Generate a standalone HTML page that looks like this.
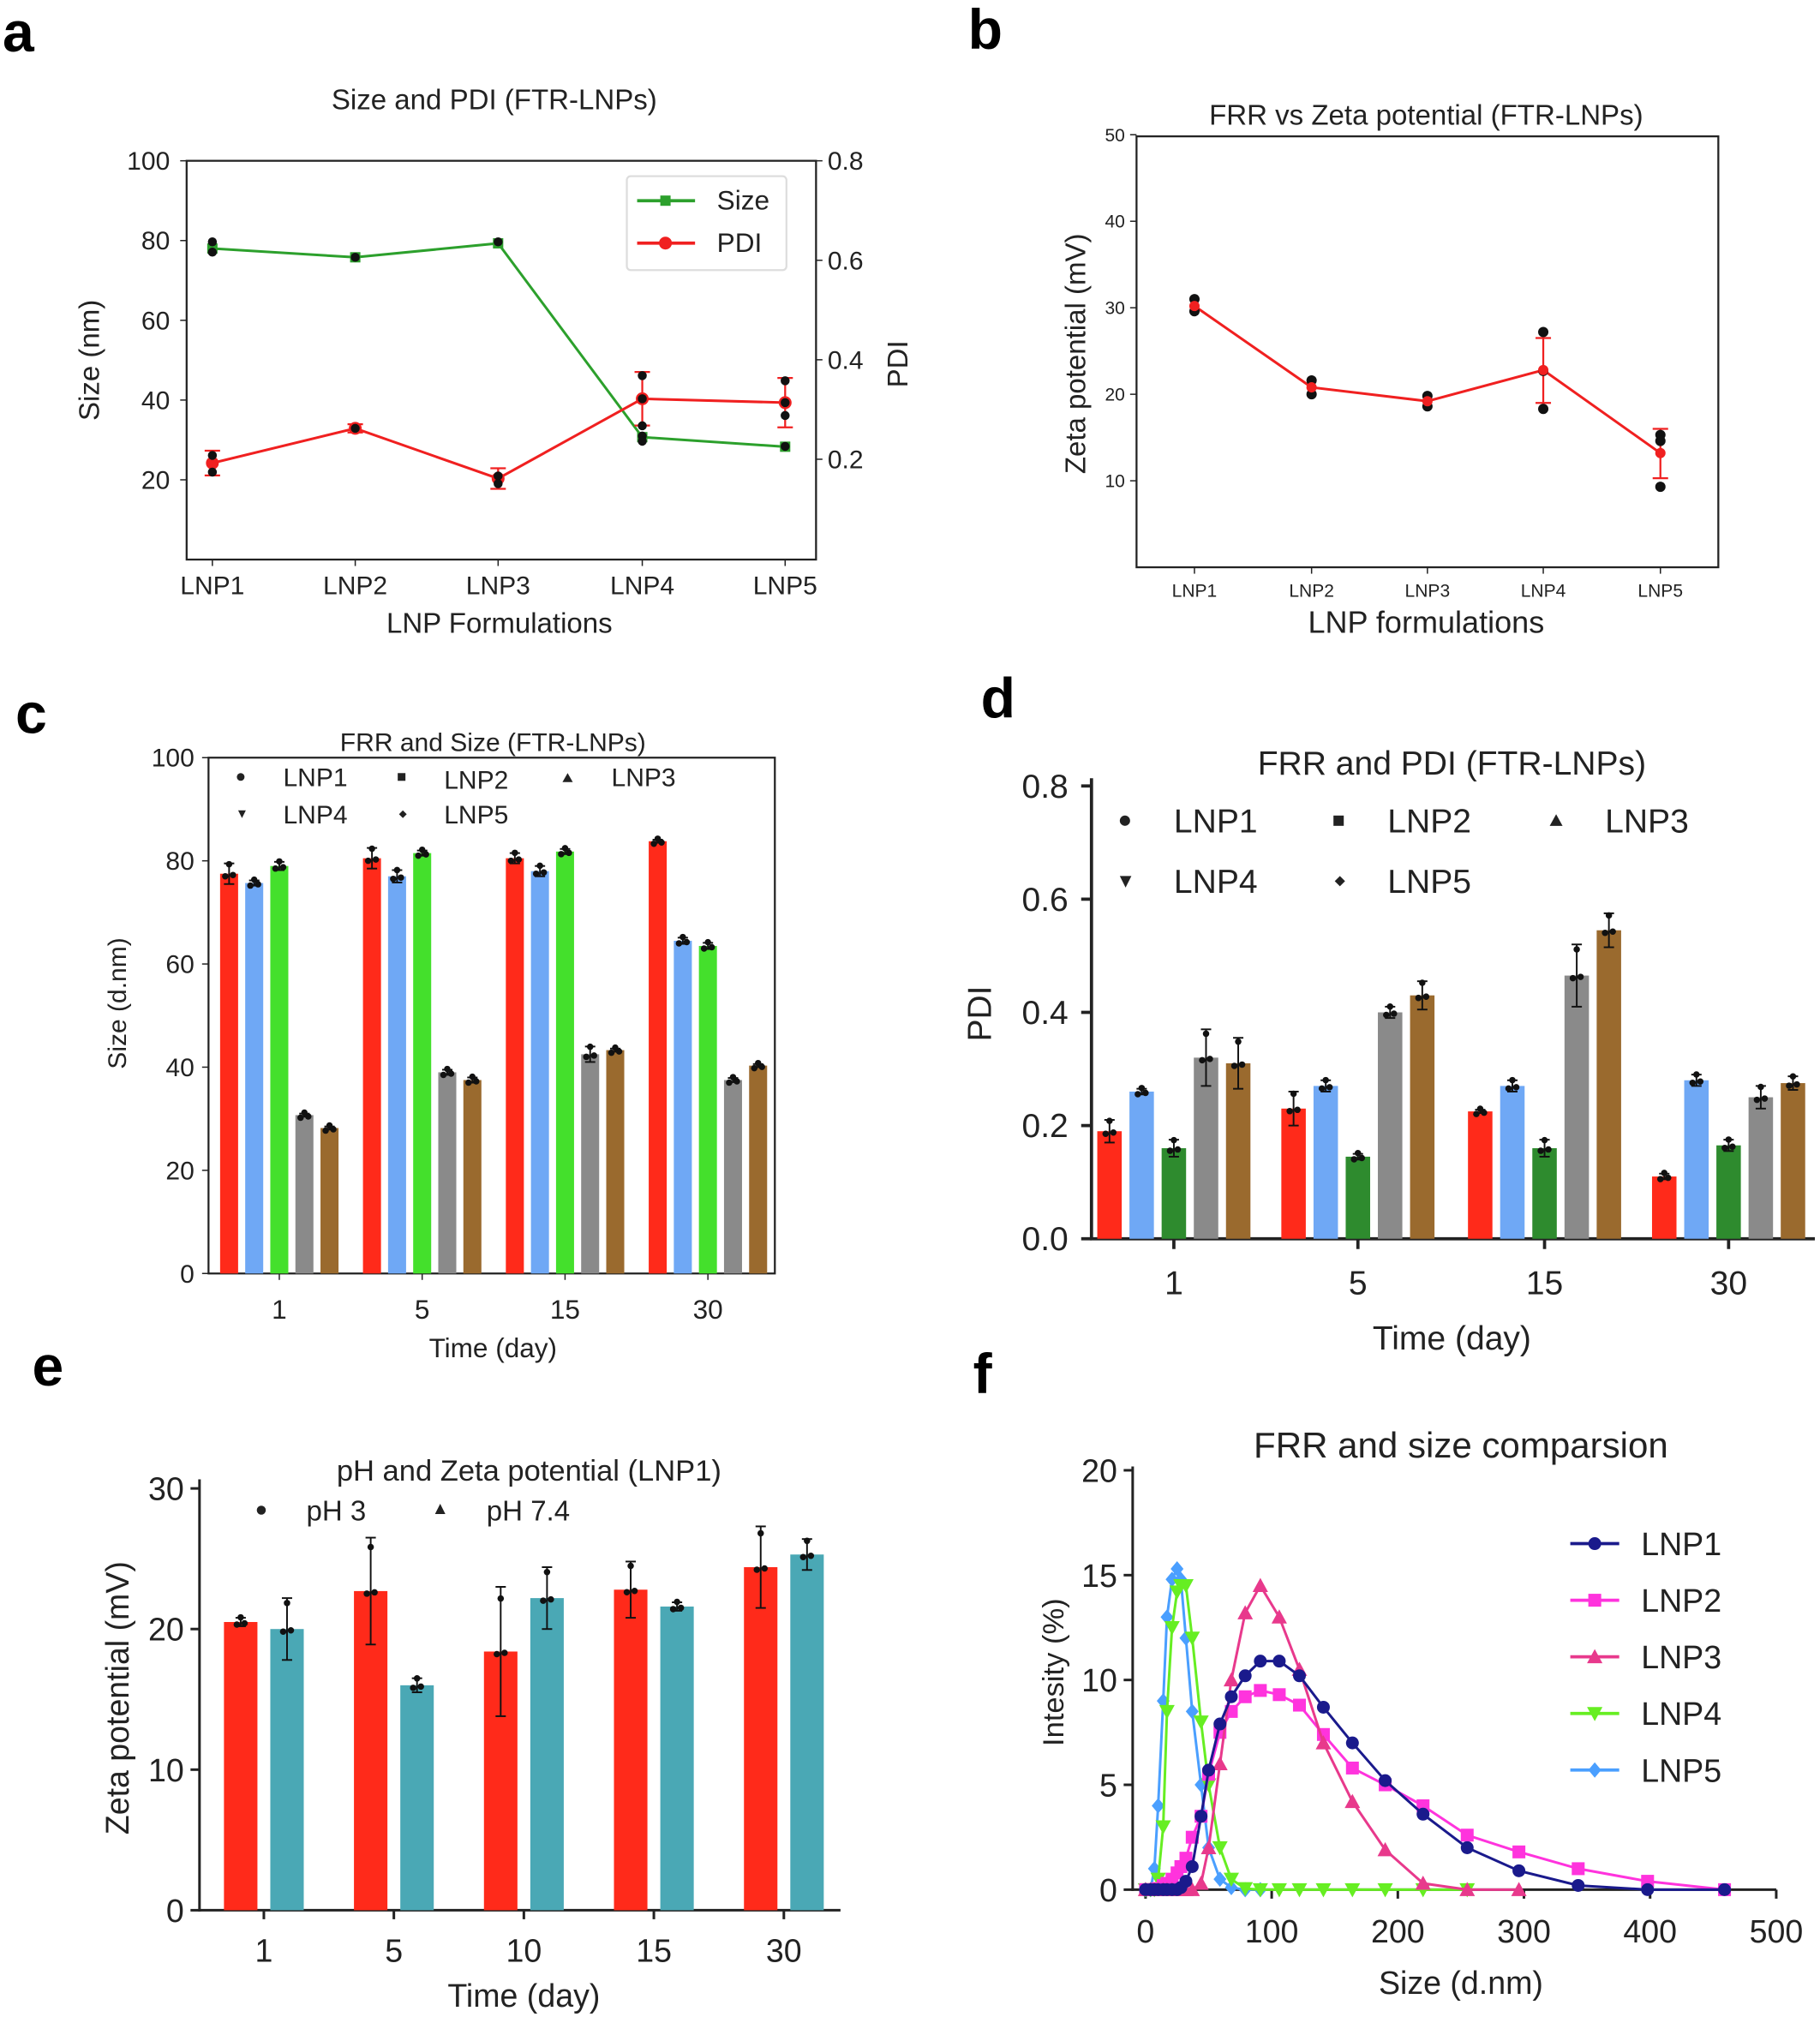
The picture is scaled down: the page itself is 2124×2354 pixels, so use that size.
<!DOCTYPE html>
<html><head><meta charset="utf-8"><style>
html,body{margin:0;padding:0;background:#fff;}
svg{display:block;font-family:"Liberation Sans",sans-serif;}
</style></head><body>
<svg id="s" xmlns="http://www.w3.org/2000/svg" width="2124" height="2354" viewBox="0 0 1414 1568" preserveAspectRatio="none">
<rect width="1414" height="1568" fill="#fff"/>
<g font-weight="bold" font-size="44">
<text x="2" y="40">a</text><text x="752" y="38">b</text>
<text x="12" y="570">c</text><text x="762" y="558">d</text>
<text x="25" y="1077">e</text><text x="756" y="1083">f</text>
</g>
<!-- Panel a -->
<g font-size="20" fill="#222">
<text x="384" y="85" text-anchor="middle" font-size="22">Size and PDI (FTR-LNPs)</text>
<rect x="145" y="125" width="489" height="310" fill="none" stroke="#222" stroke-width="1.5"/>
<text x="388" y="492" text-anchor="middle" font-size="22">LNP Formulations</text>
<text transform="translate(77,280) rotate(-90)" text-anchor="middle" font-size="22">Size (nm)</text>
<text transform="translate(705,283) rotate(-90)" text-anchor="middle" font-size="22">PDI</text>
</g>
<g id="pa"></g>
<!-- Panel b -->
<g font-size="14" fill="#222">
<text x="1108" y="97" text-anchor="middle" font-size="22">FRR vs Zeta potential (FTR-LNPs)</text>
<rect x="883" y="106" width="452" height="335" fill="none" stroke="#222" stroke-width="1.5"/>
<text x="1108" y="492" text-anchor="middle" font-size="24">LNP formulations</text>
<text transform="translate(843,275) rotate(-90)" text-anchor="middle" font-size="22">Zeta potential (mV)</text>
</g>
<g id="pb"></g>
<!-- Panel c -->
<g fill="#222">
<text x="383" y="584" text-anchor="middle" font-size="20">FRR and Size (FTR-LNPs)</text>
<rect x="162" y="589" width="440" height="401" fill="none" stroke="#222" stroke-width="1.5"/>
<text x="383" y="1055" text-anchor="middle" font-size="21">Time (day)</text>
<text transform="translate(98,780) rotate(-90)" text-anchor="middle" font-size="20">Size (d.nm)</text>
<g font-size="20"><circle cx="187" cy="604" r="3"/><text x="220" y="611">LNP1</text>
<rect x="309" y="601" width="6" height="6"/><text x="345" y="613">LNP2</text>
<path d="M441 601 L445 608 L437 608Z"/><text x="475" y="611">LNP3</text>
<path d="M185 630 L191 630 L188 636Z"/><text x="220" y="640">LNP4</text>
<path d="M313 630 L316 633 L313 636 L310 633Z"/><text x="345" y="640">LNP5</text></g>
</g>
<g id="pc"></g>
<!-- Panel d -->
<g fill="#222">
<text x="1128" y="602" text-anchor="middle" font-size="26">FRR and PDI (FTR-LNPs)</text>
<text x="1128" y="1049" text-anchor="middle" font-size="26">Time (day)</text>
<text transform="translate(770,788) rotate(-90)" text-anchor="middle" font-size="26">PDI</text>
<g font-size="26"><circle cx="874" cy="638" r="4"/><text x="912" y="647">LNP1</text>
<rect x="1036" y="634" width="8" height="8"/><text x="1078" y="647">LNP2</text>
<path d="M1209 633 L1214 642 L1204 642Z"/><text x="1247" y="647">LNP3</text>
<path d="M870 681 L879 681 L874.5 690Z"/><text x="912" y="694">LNP4</text>
<path d="M1041 681 L1045 685 L1041 689 L1037 685Z"/><text x="1078" y="694">LNP5</text></g>
</g>
<g id="pd"></g>
<!-- Panel e -->
<g fill="#222">
<text x="411" y="1151" text-anchor="middle" font-size="23">pH and Zeta potential  (LNP1)</text>
<text x="407" y="1560" text-anchor="middle" font-size="25">Time (day)</text>
<text transform="translate(100,1320) rotate(-90)" text-anchor="middle" font-size="25">Zeta potential (mV)</text>
<g font-size="22"><circle cx="203" cy="1174" r="3.5"/><text x="238" y="1182">pH 3</text>
<path d="M342 1169 L346 1177 L338 1177Z"/><text x="378" y="1182">pH 7.4</text></g>
</g>
<g id="pe"></g>
<!-- Panel f -->
<g fill="#222">
<text x="1135" y="1133" text-anchor="middle" font-size="28">FRR and size comparsion</text>
<text x="1135" y="1550" text-anchor="middle" font-size="25">Size (d.nm)</text>
<text transform="translate(826,1300) rotate(-90)" text-anchor="middle" font-size="23">Intesity (%)</text>
</g>
<g id="pf"></g>
</svg>
<script>
const NS="http://www.w3.org/2000/svg";
function el(p,t,a,txt){const e=document.createElementNS(NS,t);for(const k in a)e.setAttribute(k,a[k]);if(txt!==undefined)e.textContent=txt;document.getElementById(p).appendChild(e);return e;}
// Panel a
(function(){
 const xs=[165,276,387,499,610],names=["LNP1","LNP2","LNP3","LNP4","LNP5"];
 const ys=v=>435-3.1*v, yp=p=>125+(0.8-p)*386.7;
 [20,40,60,80,100].forEach(v=>{el("pa","line",{x1:140,x2:145,y1:ys(v),y2:ys(v),stroke:"#222"});el("pa","text",{x:132,y:ys(v)+7,"text-anchor":"end","font-size":20,fill:"#222"},v);});
 [0.2,0.4,0.6,0.8].forEach(v=>{el("pa","line",{x1:634,x2:639,y1:yp(v),y2:yp(v),stroke:"#222"});el("pa","text",{x:643,y:yp(v)+7,"font-size":20,fill:"#222"},v.toFixed(1));});
 xs.forEach((x,i)=>{el("pa","line",{x1:x,x2:x,y1:435,y2:440,stroke:"#222"});el("pa","text",{x:x,y:462,"text-anchor":"middle","font-size":20,fill:"#222"},names[i]);});
 const sz=[78,75.8,79.3,30.7,28.3],pdi=[360,333,372,310,313];
 el("pa","polyline",{points:xs.map((x,i)=>x+","+ys(sz[i])).join(" "),fill:"none",stroke:"#2ca02c","stroke-width":2});
 el("pa","polyline",{points:xs.map((x,i)=>x+","+pdi[i]).join(" "),fill:"none",stroke:"#f02020","stroke-width":2});
 const pe=[6,2,5,13,12];
 xs.forEach((x,i)=>{const y=ys(sz[i]);el("pa","line",{x1:x,x2:x,y1:y-3,y2:y+3,stroke:"#2ca02c","stroke-width":2});el("pa","rect",{x:x-4,y:y-4,width:8,height:8,fill:"#2ca02c"});
 const p=pdi[i];el("pa","line",{x1:x,x2:x,y1:p-pe[i]*1.6,y2:p+pe[i]*1.6,stroke:"#f02020","stroke-width":1.5});
 [-1,1].forEach(s=>el("pa","line",{x1:x-6,x2:x+6,y1:p+s*pe[i]*1.6,y2:p+s*pe[i]*1.6,stroke:"#f02020","stroke-width":1.5}));
 el("pa","circle",{cx:x,cy:p,r:5,fill:"#f02020"});});
 [[165,188],[165,196],[276,200],[387,188],[499,339],[499,343],[610,347],[165,354],[165,367],[276,333],[387,370],[387,376],[499,292],[499,310],[499,331],[610,296],[610,313],[610,323]].forEach(d=>el("pa","circle",{cx:d[0],cy:d[1],r:3.5,fill:"#111"}));
 el("pa","rect",{x:487,y:137,width:124,height:73,fill:"#fff",stroke:"#ddd","stroke-width":1.5,rx:3});
 el("pa","line",{x1:495,x2:540,y1:156,y2:156,stroke:"#2ca02c","stroke-width":2.5});el("pa","rect",{x:513,y:152,width:8,height:8,fill:"#2ca02c"});
 el("pa","line",{x1:495,x2:540,y1:189,y2:189,stroke:"#f02020","stroke-width":2.5});el("pa","circle",{cx:517,cy:189,r:5,fill:"#f02020"});
 el("pa","text",{x:557,y:163,"font-size":21,fill:"#222"},"Size");el("pa","text",{x:557,y:196,"font-size":21,fill:"#222"},"PDI");
})();
// Panel b
(function(){
 const xs=[928,1019,1109,1199,1290],y=v=>441-6.725*v;
 [10,20,30,40,50].forEach(v=>{el("pb","line",{x1:878,x2:883,y1:y(v),y2:y(v),stroke:"#222"});el("pb","text",{x:874,y:y(v)+5,"text-anchor":"end","font-size":14,fill:"#222"},v);});
 xs.forEach((x,i)=>{el("pb","line",{x1:x,x2:x,y1:441,y2:446,stroke:"#222"});el("pb","text",{x:x,y:464,"text-anchor":"middle","font-size":14,fill:"#222"},"LNP"+(i+1));});
 const v=[30.2,20.8,19.2,22.8,13.2];
 el("pb","polyline",{points:xs.map((x,i)=>x+","+y(v[i])).join(" "),fill:"none",stroke:"#f02020","stroke-width":2});
 [[1199,19,26.5],[1290,10.3,16]].forEach(e=>{el("pb","line",{x1:e[0],x2:e[0],y1:y(e[1]),y2:y(e[2]),stroke:"#f02020","stroke-width":1.5});[e[1],e[2]].forEach(q=>el("pb","line",{x1:e[0]-6,x2:e[0]+6,y1:y(q),y2:y(q),stroke:"#f02020","stroke-width":1.5}));});
 [[928,31],[928,29.6],[1019,21.6],[1019,20],[1109,19.8],[1109,18.6],[1199,27.2],[1199,22.7],[1199,18.3],[1290,15.3],[1290,14.6],[1290,9.3]].forEach(d=>el("pb","circle",{cx:d[0],cy:y(d[1]),r:4,fill:"#111"}));
 xs.forEach((x,i)=>el("pb","circle",{cx:x,cy:y(v[i]),r:4,fill:"#f02020"}));
})();
function bars(g,cen,offs,w,vals,cols,yf,errs){
 cen.forEach((c,gi)=>{offs.forEach((o,bi)=>{const v=vals[gi][bi],x=c+o,y=yf(v),b=yf(0);
  el(g,"rect",{x:x-w/2,y:y,width:w,height:b-y,fill:cols[bi]});
  const e=errs?errs[gi][bi]:0;
  if(e){el(g,"line",{x1:x,x2:x,y1:yf(v+e),y2:yf(v-e),stroke:"#111","stroke-width":1.3});[v+e,v-e].forEach(q=>el(g,"line",{x1:x-4,x2:x+4,y1:yf(q),y2:yf(q),stroke:"#111","stroke-width":1.3}));}
  el(g,"circle",{cx:x-3,cy:yf(v)+2,r:2.5,fill:"#111"});el(g,"circle",{cx:x+3,cy:yf(v)+1,r:2.5,fill:"#111"});el(g,"circle",{cx:x,cy:yf(v+e*0.8)-1,r:2.5,fill:"#111"});
 });});
}
// Panel c
(function(){
 const y=v=>990-4.01*v;
 [0,20,40,60,80,100].forEach(v=>{el("pc","line",{x1:157,x2:162,y1:y(v),y2:y(v),stroke:"#222"});el("pc","text",{x:151,y:y(v)+7,"text-anchor":"end","font-size":20,fill:"#222"},v);});
 const cen=[217,328,439,550];["1","5","15","30"].forEach((t,i)=>{el("pc","line",{x1:cen[i],x2:cen[i],y1:990,y2:995,stroke:"#222"});el("pc","text",{x:cen[i],y:1025,"text-anchor":"middle","font-size":21,fill:"#222"},t);});
 bars("pc",cen,[-39,-19.5,0,19.5,39],14,[[77.5,75.7,79,30.7,28.2],[80.5,77,81.5,39,37.5],[80.5,78,81.8,42.5,43.3],[83.8,64.5,63.5,37.5,40.3]],["#ff2a1a","#6fa8f5","#44e02c","#8a8a8a","#9a6a2e"],y,[[2,0.5,0.8,0.3,0.3],[2,1.2,0.5,0.5,0.5],[1,1,0.5,1.5,0.3],[0.3,0.6,0.6,0.4,0.3]]);
})();
// Panel d
(function(){
 const y=p=>963-440*p;
 el("pd","line",{x1:848,x2:848,y1:605,y2:964,stroke:"#222","stroke-width":2.5});el("pd","line",{x1:847,x2:1410,y1:963,y2:963,stroke:"#222","stroke-width":2.5});
 [0,0.2,0.4,0.6,0.8].forEach(v=>{el("pd","line",{x1:840,x2:848,y1:y(v),y2:y(v),stroke:"#222","stroke-width":2.5});el("pd","text",{x:830,y:y(v)+9,"text-anchor":"end","font-size":26,fill:"#222"},v.toFixed(1));});
 const cen=[912,1055,1200,1343];["1","5","15","30"].forEach((t,i)=>{el("pd","line",{x1:cen[i],x2:cen[i],y1:963,y2:971,stroke:"#222","stroke-width":2.5});el("pd","text",{x:cen[i],y:1006,"text-anchor":"middle","font-size":26,fill:"#222"},t);});
 bars("pd",cen,[-50,-25,0,25,50],19,[[.19,.26,.16,.32,.31],[.23,.27,.145,.40,.43],[.225,.27,.16,.465,.545],[.11,.28,.165,.25,.275]],["#ff2a1a","#6fa8f5","#2e8b2e","#8a8a8a","#9a6a2e"],y,[[.02,.005,.015,.05,.045],[.03,.01,.005,.01,.025],[.003,.01,.015,.055,.03],[.005,.01,.01,.02,.012]]);
})();
// Panel e
(function(){
 const y=v=>1485-10.93*v;
 el("pe","line",{x1:155,x2:155,y1:1150,y2:1486,stroke:"#222","stroke-width":2});el("pe","line",{x1:154,x2:653,y1:1485,y2:1485,stroke:"#222","stroke-width":2});
 [0,10,20,30].forEach(v=>{el("pe","line",{x1:148,x2:155,y1:y(v),y2:y(v),stroke:"#222","stroke-width":2});el("pe","text",{x:143,y:y(v)+9,"text-anchor":"end","font-size":25,fill:"#222"},v);});
 const cen=[205,306,407,508,609];["1","5","10","15","30"].forEach((t,i)=>{el("pe","line",{x1:cen[i],x2:cen[i],y1:1485,y2:1492,stroke:"#222","stroke-width":2});el("pe","text",{x:cen[i],y:1525,"text-anchor":"middle","font-size":25,fill:"#222"},t);});
 bars("pe",cen,[-18,18],26,[[20.5,20],[22.7,16],[18.4,22.2],[22.8,21.6],[24.4,25.3]],["#ff2a1a","#4aa8b5"],y,[[0.3,2.2],[3.8,0.5],[4.6,2.2],[2,0.3],[2.9,1.1]]);
})();
// Panel f
(function(){
 const X=v=>890+0.98*v,Y=v=>1469-16.3*v;
 el("pf","line",{x1:880,x2:880,y1:1140,y2:1470,stroke:"#222","stroke-width":2});el("pf","line",{x1:879,x2:1380,y1:1469,y2:1469,stroke:"#222","stroke-width":2});
 [0,5,10,15,20].forEach(v=>{el("pf","line",{x1:873,x2:880,y1:Y(v),y2:Y(v),stroke:"#222","stroke-width":2});el("pf","text",{x:868,y:Y(v)+9,"text-anchor":"end","font-size":25,fill:"#222"},v);});
 [0,100,200,300,400,500].forEach(v=>{el("pf","line",{x1:X(v),x2:X(v),y1:1469,y2:1476,stroke:"#222","stroke-width":2});el("pf","text",{x:X(v),y:1510,"text-anchor":"middle","font-size":25,fill:"#222"},v);});
 const S=[0,4,7,10,14,17,21,25,28,32,37,44,50,59,68,79,91,106,122,141,164,190,220,255,296,343,398,459];
 const D={
 L1:[0,0,0,0,0,0,0,0,0.1,0.4,1.1,3.5,5.7,7.9,9.2,10.2,10.9,10.9,10.2,8.7,7,5.2,3.6,2.0,0.9,0.2,0,0],
 L2:[0,0,0,0.05,0.2,0.3,0.5,0.8,1.1,1.5,2.5,3.5,5.5,7.5,8.5,9.2,9.5,9.3,8.8,7.4,5.8,5,4,2.6,1.8,1.0,0.4,0],
 L3:[0,0,0,0,0,0,0,0,0,0,0,0.3,2,6,10,13.2,14.5,13,10.5,7,4.2,1.9,0.3,0,0,0,0,0],
 L4:[0,0,0,0.5,3,8.5,12.5,14.2,14.5,14.5,12,8,5,2,0.5,0.05,0,0,0,0,0,0,0,0,0,0,0,0],
 L5:[0,0,1,4,9,13,14.8,15.3,14.8,12,8.5,5,2,0.5,0.1,0,0,0,0,0,0,0,0,0,0,0,0,0]};
 const stop={L1:28,L2:28,L3:25,L4:24,L5:17};
 const cfg=[["L5","#4a9fff","d"],["L4","#66ee22","v"],["L2","#ff33dd","s"],["L3","#e8398c","t"],["L1","#1a1a8c","c"]];
 function mk(x,y,t,c){
  if(t=="c")el("pf","circle",{cx:x,cy:y,r:5,fill:c});
  else if(t=="s")el("pf","rect",{x:x-5,y:y-5,width:10,height:10,fill:c});
  else if(t=="t")el("pf","path",{d:`M${x} ${y-6}L${x+6} ${y+5}L${x-6} ${y+5}Z`,fill:c});
  else if(t=="v")el("pf","path",{d:`M${x-6} ${y-5}L${x+6} ${y-5}L${x} ${y+6}Z`,fill:c});
  else el("pf","path",{d:`M${x} ${y-6}L${x+5} ${y}L${x} ${y+6}L${x-5} ${y}Z`,fill:c});
 }
 cfg.forEach(([k,c,t])=>{const n=stop[k];const pts=S.slice(0,n).map((s,i)=>[X(s),Y(D[k][i])]);
  el("pf","polyline",{points:pts.map(p=>p.join(",")).join(" "),fill:"none",stroke:c,"stroke-width":2});
  pts.forEach(p=>mk(p[0],p[1],t,c));});
 const leg=[["LNP1","#1a1a8c","c"],["LNP2","#ff33dd","s"],["LNP3","#e8398c","t"],["LNP4","#66ee22","v"],["LNP5","#4a9fff","d"]];
 leg.forEach((l,i)=>{const yy=1200+i*44;el("pf","line",{x1:1220,x2:1258,y1:yy,y2:yy,stroke:l[1],"stroke-width":2.5});mk(1239,yy,l[2],l[1]);el("pf","text",{x:1275,y:yy+9,"font-size":25,fill:"#222"},l[0]);});
})();
</script>
</body></html>
